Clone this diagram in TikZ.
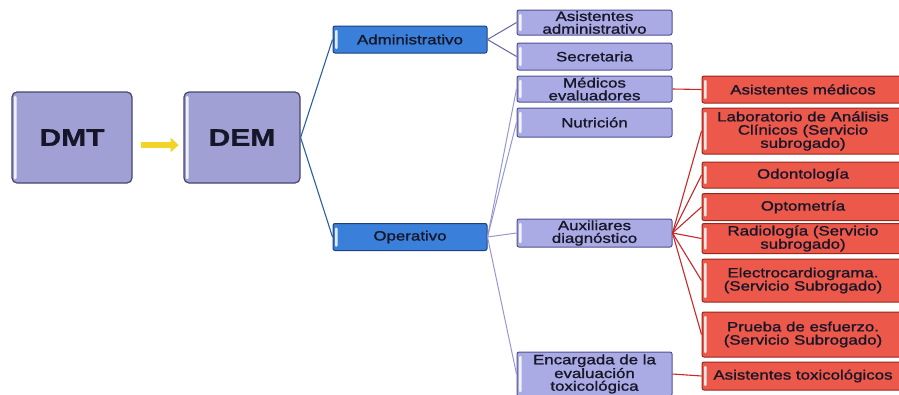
\documentclass[tikz,border=0pt]{standalone}
\usepackage{fontspec}
\setmainfont{Liberation Sans}[FakeStretch=1.25,FakeBold=1.2]
\usetikzlibrary{arrows.meta}
\definecolor{txt}{RGB}{22,22,40}
\definecolor{bigfill}{RGB}{160,160,212}
\definecolor{bigdraw}{RGB}{70,70,110}
\definecolor{bluefill}{RGB}{58,128,218}
\definecolor{bluedraw}{RGB}{30,62,125}
\definecolor{purfill}{RGB}{170,170,228}
\definecolor{purdraw}{RGB}{80,80,145}
\definecolor{redfill}{RGB}{236,88,74}
\definecolor{reddraw}{RGB}{150,40,30}
\definecolor{arrowyel}{RGB}{242,212,40}
\definecolor{linkblue}{RGB}{40,95,165}
\definecolor{linkgray}{RGB}{100,100,160}
\definecolor{linkpur}{RGB}{150,150,212}
\definecolor{linkred}{RGB}{200,40,40}
\tikzset{
  shine/.style={path picture={
    \fill[white, opacity=0.85, rounded corners=1pt]
      ([xshift=2pt,yshift=-4pt]path picture bounding box.north west) rectangle
      ([xshift=4.5pt,yshift=4pt]path picture bounding box.south west);}},
  bigbox/.style={draw=bigdraw, line width=1.2pt, fill=bigfill, rounded corners=5pt, shine,
    minimum width=120pt, minimum height=91pt, font=\fontsize{24}{24}\selectfont\bfseries, text=txt},
  bluebox/.style={draw=bluedraw, line width=1pt, fill=bluefill, rounded corners=2pt, shine,
    minimum width=154pt, minimum height=27pt, inner sep=0pt, font=\fontsize{13.5}{13}\selectfont, text=txt},
  purbox/.style={draw=purdraw, line width=1pt, fill=purfill, rounded corners=2pt, align=center, shine,
    minimum width=155pt, inner sep=0pt, font=\fontsize{13.5}{12.7}\selectfont, text=txt},
  redbox/.style={draw=reddraw, line width=1pt, fill=redfill, rounded corners=2pt, align=center, shine,
    minimum width=202pt, inner sep=0pt, font=\fontsize{13.5}{13.2}\selectfont, text=txt},
  lnblue/.style={draw=linkblue, line width=1.1pt},
  lngray/.style={draw=linkgray, line width=1pt},
  lnpur/.style={draw=linkpur, line width=1pt},
  lnred/.style={draw=linkred, line width=1.1pt},
}
\begin{document}
\begin{tikzpicture}[x=1pt,y=-1pt]
\useasboundingbox (0,0) rectangle (899,394);
% level 1
\node[bigbox] (dmt) at (72,137.5) {DMT};
\node[bigbox, minimum width=116pt] (dem) at (242,137.5) {DEM};
\draw[arrowyel, line width=6pt, -{Triangle[length=8pt,width=14pt]}] (dmt.east)++(8,7.5) coordinate (a1) -- ++(38,0) coordinate (a2);
% level 2
\node[bluebox] (adm) at (410,39.5) {Administrativo};
\node[bluebox] (ope) at (410,237) {Operativo};
% level 3
\node[purbox, minimum height=25pt] (asa) at (594.5,22.5) {Asistentes\\administrativo};
\node[purbox, minimum height=27pt] (sec) at (594.5,56.5) {Secretaria};
\node[purbox, minimum height=26pt] (med) at (594.5,89) {Médicos\\evaluadores};
\node[purbox, minimum height=29pt] (nut) at (594.5,122.5) {Nutrición};
\node[purbox, minimum height=28pt] (aux) at (594.5,233) {Auxiliares\\diagnóstico};
\node[purbox, minimum height=44pt] (enc) at (594.5,374) {Encargada de la\\evaluación\\toxicológica};
% level 4
\node[redbox, minimum height=27pt] (asm) at (803,89.5) {Asistentes médicos};
\node[redbox, minimum height=46pt] (lab) at (803,131) {Laboratorio de Análisis\\Clínicos (Servicio\\subrogado)};
\node[redbox, minimum height=26pt] (odo) at (803,175) {Odontología};
\node[redbox, minimum height=27pt] (opt) at (803,207) {Optometría};
\node[redbox, minimum height=30pt] (rad) at (803,238.5) {Radiología (Servicio\\subrogado)};
\node[redbox, minimum height=43pt] (ele) at (803,280.5) {Electrocardiograma.\\(Servicio Subrogado)};
\node[redbox, minimum height=45pt] (pru) at (803,334.5) {Prueba de esfuerzo.\\(Servicio Subrogado)};
\node[redbox, minimum height=28pt] (ast) at (803,376) {Asistentes toxicológicos};
% connectors
\draw[lnblue] (dem.east) -- (adm.west);
\draw[lnblue] (dem.east) -- (ope.west);
\draw[lngray] (adm.east) -- (asa.west);
\draw[lngray] (adm.east) -- (sec.west);
\draw[lnpur] (ope.east) -- (med.west);
\draw[lnpur] (ope.east) -- (nut.west);
\draw[lnpur] (ope.east) -- (aux.west);
\draw[lnpur] (ope.east) -- (enc.west);
\draw[lnred] (med.east) -- (asm.west);
\foreach \t in {lab,odo,opt,rad,ele,pru} \draw[lnred] (aux.east) -- (\t.west);
\draw[lnred] (enc.east) -- (ast.west);
\end{tikzpicture}
\end{document}
